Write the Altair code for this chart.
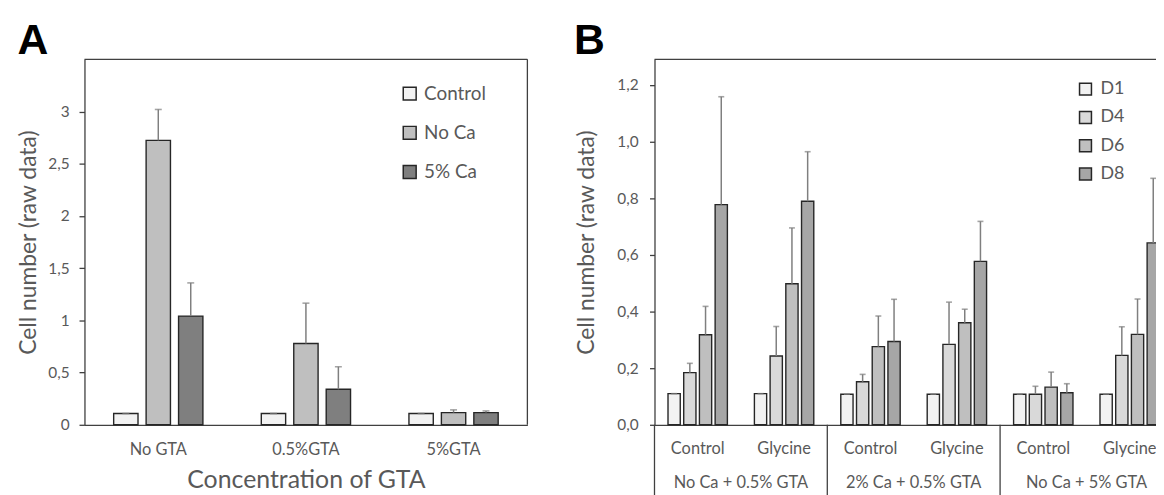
import altair as alt
import pandas as pd

# ---------------- Panel A data ----------------
a_groups = ["No GTA", "0.5%GTA", "5%GTA"]
a_series = ["Control", "No Ca", "5% Ca"]
a_control_mean = [0.108, 0.108, 0.108]
a_control_err = [0.0, 0.0, 0.0]
a_noca_mean = [2.724, 0.778, 0.117]
a_noca_err = [0.296, 0.387, 0.026]
a_5ca_mean = [1.041, 0.340, 0.117]
a_5ca_err = [0.318, 0.216, 0.016]
a_colors = ["#f2f2f2", "#bfbfbf", "#7f7f7f"]
a_yticks = [0, 0.5, 1, 1.5, 2, 2.5, 3]

# ---------------- Panel B data ----------------
b_conditions = ["No Ca + 0.5% GTA", "2% Ca + 0.5% GTA", "No Ca + 5% GTA"]
b_treatments = ["Control", "Glycine"]
b_days = ["D1", "D4", "D6", "D8"]
b_d1_mean = [0.110, 0.110, 0.108, 0.108, 0.108, 0.108]
b_d1_err = [0.0, 0.0, 0.0, 0.0, 0.0, 0.0]
b_d4_mean = [0.184, 0.243, 0.152, 0.284, 0.108, 0.245]
b_d4_err = [0.033, 0.104, 0.026, 0.149, 0.028, 0.101]
b_d6_mean = [0.318, 0.498, 0.276, 0.360, 0.133, 0.319]
b_d6_err = [0.100, 0.197, 0.108, 0.048, 0.053, 0.125]
b_d8_mean = [0.777, 0.789, 0.294, 0.577, 0.113, 0.642]
b_d8_err = [0.381, 0.175, 0.149, 0.141, 0.032, 0.228]
b_colors = ["#f2f2f2", "#d9d9d9", "#bfbfbf", "#a6a6a6"]
b_yticks = [0, 0.2, 0.4, 0.6, 0.8, 1.0, 1.2]

# ---------------- tables ----------------
rows_a = []
for s, means, errs in zip(a_series,
                          [a_control_mean, a_noca_mean, a_5ca_mean],
                          [a_control_err, a_noca_err, a_5ca_err]):
    for g, m, e in zip(a_groups, means, errs):
        rows_a.append({"gta": g, "series": s, "mean": m, "upper": m + e})
df_a = pd.DataFrame(rows_a)

b_keys = [f"{ci + 1}|{t}" for ci in range(len(b_conditions)) for t in b_treatments]
rows_b = []
for d, means, errs in zip(b_days,
                          [b_d1_mean, b_d4_mean, b_d6_mean, b_d8_mean],
                          [b_d1_err, b_d4_err, b_d6_err, b_d8_err]):
    for k, m, e in zip(b_keys, means, errs):
        rows_b.append({"key": k, "day": d, "mean": m, "upper": m + e})
df_b = pd.DataFrame(rows_b)
first_keys = [b_keys[i * len(b_treatments)] for i in range(len(b_conditions))]
df_grp = pd.DataFrame({"key": first_keys, "cond": b_conditions})

W_A, W_B, H = 446, 522, 368
TXT = "#595959"
LINE = "#404040"
BARLINE = "#262626"
ERR = "#7f7f7f"

one = pd.DataFrame({"t": ["A"]})

# ---------------- Panel A ----------------
ya_axis = alt.Axis(values=a_yticks, title="Cell number (raw data)",
                   labelExpr="replace(toString(datum.value), '.', ',')",
                   tickSize=5.5, labelPadding=10, labelFontSize=15.5,
                   titleFontSize=23, titlePadding=7)
ya_scale = alt.Scale(domain=[0, 3.5], nice=False)
xa = alt.X("gta:N", sort=a_groups,
           scale=alt.Scale(domain=a_groups, paddingInner=0, paddingOuter=0),
           axis=alt.Axis(title="Concentration of GTA", ticks=False, tickSize=0,
                         labelAngle=0, labelPadding=17, labelFontSize=16.5,
                         titleFontSize=25, titlePadding=10))
xoa = alt.XOffset("series:N", sort=a_series,
                  scale=alt.Scale(domain=a_series, paddingInner=0.25, paddingOuter=0.9))

base_a = alt.Chart(df_a)
bars_a = base_a.mark_bar(stroke=BARLINE, strokeWidth=1.4).encode(
    x=xa, xOffset=xoa,
    y=alt.Y("mean:Q", scale=ya_scale, axis=ya_axis),
    color=alt.Color("series:N", sort=a_series,
                    scale=alt.Scale(domain=a_series, range=a_colors),
                    legend=alt.Legend(title=None, orient="none", legendX=318, legendY=25,
                                      labelFontSize=19, symbolSize=169, rowPadding=19.5,
                                      labelOffset=5)),
)
err_a = base_a.mark_rule(color=ERR, strokeWidth=1.5).encode(
    x=xa, xOffset=xoa,
    y=alt.Y("mean:Q", scale=ya_scale, axis=ya_axis), y2="upper:Q")
cap_a = base_a.mark_tick(color=ERR, thickness=1.6, size=7).encode(
    x=xa, xOffset=xoa, y=alt.Y("upper:Q", scale=ya_scale, axis=ya_axis))

frame_a_top = alt.Chart(one).mark_rule(color=LINE, strokeWidth=1.3).encode(
    x=alt.value(0), x2=alt.value(W_A), y=alt.value(0))
frame_a_right = alt.Chart(one).mark_rule(color=LINE, strokeWidth=1.3).encode(
    x=alt.value(W_A), y=alt.value(0), y2=alt.value(H))
# white anchor that fixes the top-left corner of the drawing
anchor_a = alt.Chart(one).mark_rule(color="#ffffff", strokeWidth=1).encode(
    x=alt.value(-73.8), y=alt.value(-48.8), y2=alt.value(-48))
label_a = alt.Chart(one).mark_text(font="Liberation Sans", fontWeight="bold", fontSize=43,
                                   align="left", baseline="alphabetic", color="#000000").encode(
    text="t:N", x=alt.value(-67.5), y=alt.value(-5.6))

chart_a = alt.layer(anchor_a, bars_a, err_a, cap_a, frame_a_top, frame_a_right,
                    label_a).properties(width=W_A, height=H)

# ---------------- Panel B ----------------
yb_axis = alt.Axis(values=b_yticks, title="Cell number (raw data)",
                   labelExpr="replace(format(datum.value, '.1f'), '.', ',')",
                   tickSize=5, labelPadding=11.5, labelFontSize=15.5,
                   titleFontSize=23, titlePadding=18)
yb_scale = alt.Scale(domain=[0, 1.29], nice=False)
xb_scale = alt.Scale(domain=b_keys, paddingInner=0, paddingOuter=0)
xb_axis = alt.Axis(title=None, ticks=False, tickSize=0, labelAngle=0,
                   labelExpr="split(datum.label, '|')[1]",
                   labelPadding=16, labelFontSize=16.5)
xb = alt.X("key:N", sort=b_keys, scale=xb_scale, axis=xb_axis)
xob = alt.XOffset("day:N", sort=b_days,
                  scale=alt.Scale(domain=b_days, paddingInner=0.22, paddingOuter=0.86))

base_b = alt.Chart(df_b)
bars_b = base_b.mark_bar(stroke=BARLINE, strokeWidth=1.4).encode(
    x=xb, xOffset=xob,
    y=alt.Y("mean:Q", scale=yb_scale, axis=yb_axis),
    color=alt.Color("day:N", sort=b_days,
                    scale=alt.Scale(domain=b_days, range=b_colors),
                    legend=alt.Legend(title=None, orient="none", legendX=425, legendY=21,
                                      labelFontSize=18, symbolSize=144, rowPadding=10.5,
                                      labelOffset=6)),
)
err_b = base_b.mark_rule(color=ERR, strokeWidth=1.5).encode(
    x=xb, xOffset=xob,
    y=alt.Y("mean:Q", scale=yb_scale, axis=yb_axis), y2="upper:Q")
cap_b = base_b.mark_tick(color=ERR, thickness=1.6, size=6).encode(
    x=xb, xOffset=xob, y=alt.Y("upper:Q", scale=yb_scale, axis=yb_axis))

sep_b = alt.Chart(df_grp).mark_rule(color=LINE, strokeWidth=1.3).encode(
    x=alt.X("key:N", sort=b_keys, scale=xb_scale, axis=xb_axis, bandPosition=0),
    y=alt.value(H), y2=alt.value(H + 71))
grp_b = alt.Chart(df_grp).mark_text(fontSize=16.5, color=TXT, baseline="middle").encode(
    x=alt.X("key:N", sort=b_keys, scale=xb_scale, axis=xb_axis, bandPosition=1),
    y=alt.value(H + 59), text="cond:N")
frame_b_top = alt.Chart(one).mark_rule(color=LINE, strokeWidth=1.3).encode(
    x=alt.value(0), x2=alt.value(W_B), y=alt.value(0))
label_b = alt.Chart(pd.DataFrame({"t": ["B"]})).mark_text(
    font="Liberation Sans", fontWeight="bold", fontSize=43,
    align="left", baseline="alphabetic", color="#000000").encode(
    text="t:N", x=alt.value(-81), y=alt.value(-5.6))

chart_b = alt.layer(bars_b, err_b, cap_b, sep_b, grp_b, frame_b_top, label_b).properties(
    width=W_B, height=H)

chart = alt.hconcat(chart_a, chart_b, spacing=128, bounds="flush").resolve_scale(
    color="independent", xOffset="independent"
).properties(
    padding={"left": 2, "top": 0, "right": -19, "bottom": -2}
).configure_view(
    stroke="transparent"
).configure_axis(
    labelFont="Lato", titleFont="Lato", labelColor=TXT, titleColor=TXT,
    titleFontWeight="normal", domainColor=LINE, tickColor=LINE,
    domainWidth=1.3, tickWidth=1.3, grid=False
).configure_legend(
    labelFont="Lato", labelColor=TXT, symbolType="square",
    symbolStrokeColor=BARLINE, symbolStrokeWidth=1.5, padding=0
).configure_text(font="Lato")

chart.save("out.html", embed_options={"renderer": "svg", "actions": False})
